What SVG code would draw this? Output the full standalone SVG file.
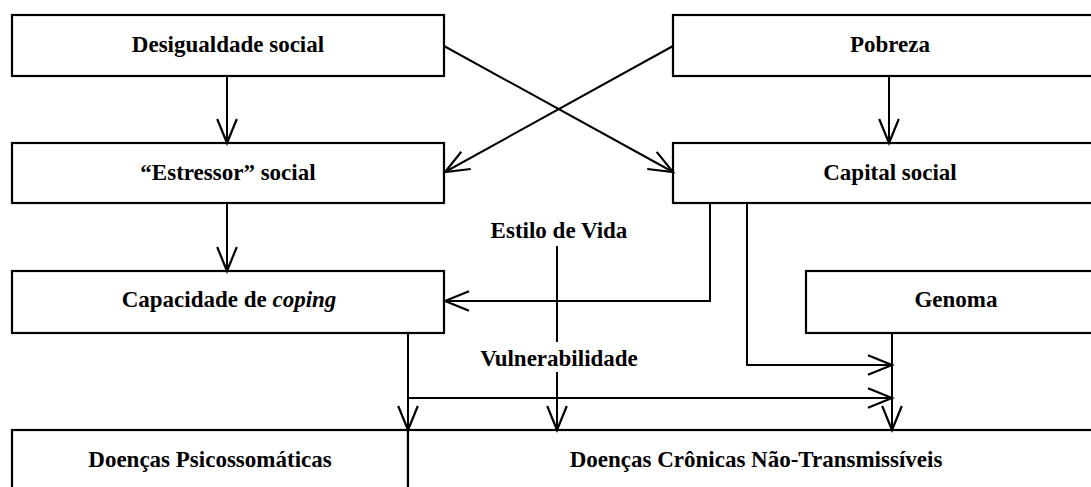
<svg xmlns="http://www.w3.org/2000/svg" width="1091" height="487" viewBox="0 0 1091 487">
  <style>
    .box { fill: #fff; stroke: #000; stroke-width: 2.2; }
    .lbl { font-family: "Liberation Serif", "Times New Roman", serif; font-weight: bold; font-size: 23px; fill: #000; text-anchor: middle; }
    .conn { fill: none; stroke: #000; stroke-width: 2; }
  </style>
  <defs>
    <marker id="arr" markerUnits="userSpaceOnUse" markerWidth="30" markerHeight="24" viewBox="-24 -11 26 22" refX="0" refY="0" orient="auto">
      <path d="M-22,-9 L0,0 L-22,9" fill="none" stroke="#000" stroke-width="2"/>
    </marker>
  </defs>
  <rect width="1091" height="487" fill="#fff"/>

  <g id="desigualdade">
    <rect class="box" x="12" y="15" width="432" height="61"/>
    <text class="lbl" x="228" y="52">Desigualdade social</text>
  </g>
  <g id="pobreza">
    <rect class="box" x="673" y="15" width="440" height="61"/>
    <text class="lbl" x="890" y="52">Pobreza</text>
  </g>
  <g id="estressor">
    <rect class="box" x="12" y="143" width="432" height="60"/>
    <text class="lbl" x="228" y="180">“Estressor” social</text>
  </g>
  <g id="capital">
    <rect class="box" x="673" y="143" width="440" height="60"/>
    <text class="lbl" x="890" y="180">Capital social</text>
  </g>
  <g id="coping">
    <rect class="box" x="12" y="271" width="432" height="62"/>
    <text class="lbl" x="229" y="307">Capacidade de <tspan font-style="italic">coping</tspan></text>
  </g>
  <g id="genoma">
    <rect class="box" x="806" y="271" width="307" height="62"/>
    <text class="lbl" x="956" y="307">Genoma</text>
  </g>
  <g id="psicossomaticas">
    <rect class="box" x="12" y="430" width="396" height="80"/>
    <text class="lbl" x="210" y="467">Doenças Psicossomáticas</text>
  </g>
  <g id="cronicas">
    <rect class="box" x="408" y="430" width="705" height="80"/>
    <text class="lbl" x="756" y="467">Doenças Crônicas Não-Transmissíveis</text>
  </g>
  <g id="estilo">
    <text class="lbl" x="559" y="238">Estilo de Vida</text>
  </g>
  <g id="vulnerabilidade">
    <text class="lbl" x="559" y="366">Vulnerabilidade</text>
  </g>

  <g id="connectors">
    <line class="conn" x1="227" y1="76" x2="227" y2="143" marker-end="url(#arr)"/>
    <line class="conn" x1="889" y1="76" x2="889" y2="143" marker-end="url(#arr)"/>
    <line class="conn" x1="444" y1="46" x2="673" y2="172" marker-end="url(#arr)"/>
    <line class="conn" x1="673" y1="46" x2="445" y2="172" marker-end="url(#arr)"/>
    <line class="conn" x1="227" y1="204" x2="227" y2="271" marker-end="url(#arr)"/>
    <polyline class="conn" points="710,204 710,301 445,301" marker-end="url(#arr)"/>
    <polyline class="conn" points="747,204 747,365 892,365" marker-end="url(#arr)"/>
    <line class="conn" x1="892" y1="333" x2="892" y2="430" marker-end="url(#arr)"/>
    <line class="conn" x1="408" y1="333" x2="408" y2="430" marker-end="url(#arr)"/>
    <line class="conn" x1="408" y1="430" x2="408" y2="487"/>
    <line class="conn" x1="408" y1="398" x2="892" y2="398" marker-end="url(#arr)"/>
    <line class="conn" x1="557" y1="246" x2="557" y2="342"/>
    <line class="conn" x1="557" y1="372" x2="557" y2="430" marker-end="url(#arr)"/>
  </g>
</svg>
